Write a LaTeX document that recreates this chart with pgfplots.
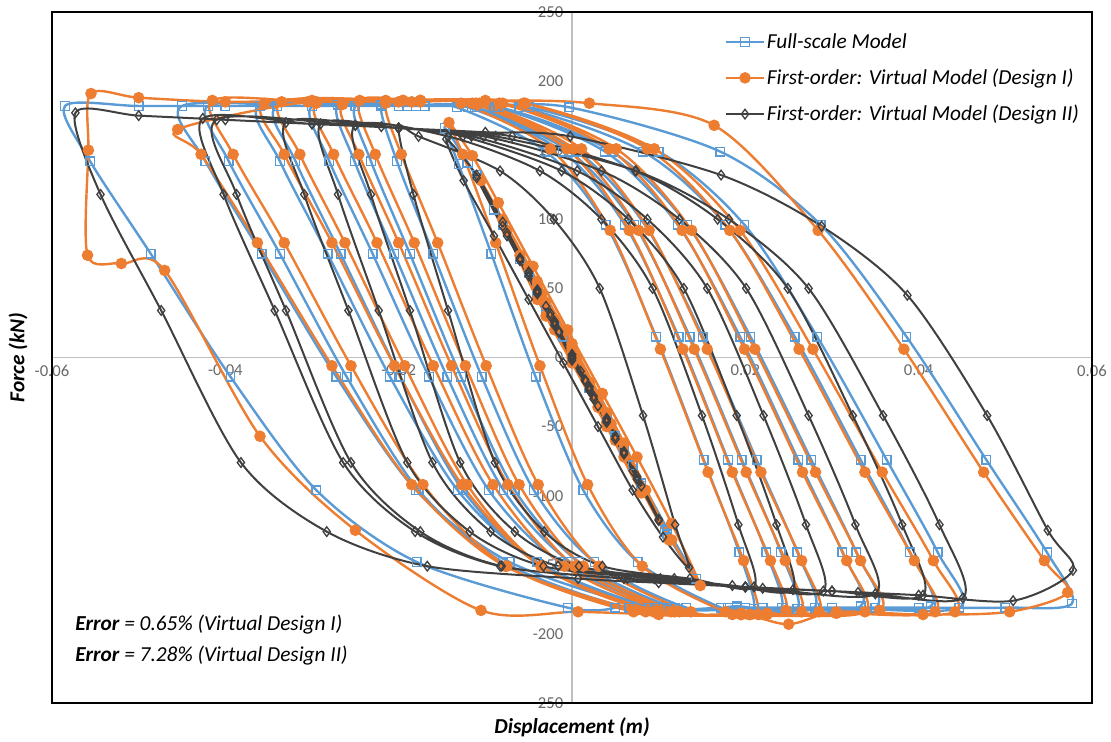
\documentclass[border=0pt]{standalone}
\usepackage{fontspec}
\setmainfont{Carlito}
\usepackage{pgfplots}
\pgfplotsset{compat=1.18}
\definecolor{cblue}{RGB}{91,155,213}
\definecolor{corange}{RGB}{237,125,49}
\definecolor{cdark}{RGB}{64,64,64}
\definecolor{axgray}{RGB}{191,191,191}
\definecolor{tickgray}{RGB}{105,105,105}
\begin{document}
\begin{tikzpicture}
\useasboundingbox (-39pt,-29.25pt) rectangle (794.25pt,527.25pt);
\begin{axis}[
  at={(0,0)}, anchor=south west,
  scale only axis, width=780pt, height=518.25pt,
  xmin=-0.06, xmax=0.06, ymin=-250, ymax=250,
  axis lines=middle,
  axis line style={draw=axgray, line width=0.8pt, -},
  major tick length=0pt,
  scaled x ticks=false, scaled y ticks=false,
  xtick={-0.06,-0.04,-0.02,0.02,0.04,0.06},
  xticklabels={-0.06,-0.04,-0.02,0.02,0.04,0.06},
  ytick={-250,-200,-150,-100,-50,0,50,100,150,200,250},
  yticklabels={-250,-200,-150,-100,-50,0,50,100,150,200,250},
  hide obscured x ticks=false,
  hide obscured y ticks=false,
  tick label style={font=\fontsize{12.5}{14}\selectfont, text=tickgray},
  xticklabel style={anchor=north, yshift=-2pt},
  yticklabel style={anchor=east, xshift=-3pt},
  clip=true,
  legend cell align=left,
  legend image code/.code={\draw[mark repeat=2,mark phase=2,#1] plot coordinates {(0pt,0pt) (14pt,0pt) (28pt,0pt)};},
  legend style={at={(rel axis cs:0.647,0.972)}, anchor=north west, draw=none, fill=none,
    font=\itshape\fontsize{16}{19}\selectfont, row sep=11pt, inner sep=0pt,
    nodes={inner sep=1.5pt}},
]
\addplot[cblue, line width=1.8pt, smooth, mark=square, mark size=3.2pt,
  mark options={line width=1pt, fill=none, solid}] coordinates {
(0,0) (0.002,-22) (0.004,-45) (0.002,-21) (0,2) (-0.002,25) (-0.004,48) (-0.002,23) (0,-1) (0.003,-34) (0.006,-68) (0.003,-33) (0,3) (-0.003,37) (-0.006,71) (-0.003,34) (0,-2) (0.004,-46) (0.008,-93) (0.004,-44) (0,4) (-0.004,50) (-0.008,96) (-0.004,46) (0,1) (0.005,-57) (0.0107,-125) (0.006,-66) (0,6) (-0.005,63) (-0.011,132)
(-0.008,97) (-0.004,51) (0,4) (0.004,-43) (0.008,-91) (0.011,-128) (0.0143,-160)
(0.011,-124) (0.007,-78) (0.003,-31) (-0.001,15) (-0.005,61) (-0.009,107) (-0.012,141) (-0.0147,166)
(-0.0131,140) (-0.0093,75) (-0.0042,-14) (0.0013,-96) (0.0076,-148) (0.0172,-181) (0.021,-182)
(0.0193,-141) (0.0152,-74) (0.0097,15) (0.0039,96) (-0.003,149) (-0.0133,181) (-0.018,182) (-0.022,183)
(-0.0202,142) (-0.016,75) (-0.0104,-14) (-0.0044,-96) (0.0026,-148) (0.0132,-181) (0.019,-180) (0.0242,-181)
(0.0224,-141) (0.018,-74) (0.0123,15) (0.0061,96) (-0.0011,149) (-0.012,181) (-0.018,182) (-0.025,182)
(-0.0232,142) (-0.0187,75) (-0.0128,-14) (-0.0066,-96) (0.0008,-148) (0.0119,-181) (0.019,-181) (0.026,-182)
(0.0241,-141) (0.0196,-74) (0.0136,15) (0.0072,96) (-0.0003,149) (-0.0116,181) (-0.019,182) (-0.027,183)
(-0.0251,142) (-0.0205,75) (-0.0144,-14) (-0.0079,-96) (-0.0002,-148) (0.0113,-181) (0.02,-181) (0.028,-181)
(0.026,-141) (0.0213,-74) (0.0151,15) (0.0084,96) (0.0006,149) (-0.0112,181) (-0.02,182) (-0.03,182)
(-0.028,142) (-0.023,75) (-0.0165,-14) (-0.0096,-96) (-0.0014,-148) (0.0109,-181) (0.022,-181) (0.0333,-180)
(0.0312,-141) (0.0261,-74) (0.0194,15) (0.0122,96) (0.0038,149) (-0.0089,181) (-0.02,182) (-0.034,182)
(-0.0319,142) (-0.0267,75) (-0.0198,-14) (-0.0126,-96) (-0.004,-148) (0.0089,-181) (0.022,-181) (0.035,-181)
(0.0328,-141) (0.0276,-74) (0.0206,15) (0.0133,96) (0.0046,149) (-0.0085,181) (-0.022,182) (-0.036,182)
(-0.0337,142) (-0.0282,75) (-0.021,-14) (-0.0132,-96) (-0.0041,-148) (0.0096,-181) (0.02,-181) (0.03,-181) (0.0414,-180)
(0.039,-141) (0.0333,-74) (0.0257,15) (0.0177,96) (0.0082,149) (-0.0061,181) (-0.018,182) (-0.03,182) (-0.042,182)
(-0.0396,142) (-0.0337,75) (-0.026,-14) (-0.0177,-96) (-0.008,-148) (0.0066,-181) (0.018,-181) (0.03,-181) (0.0447,-181)
(0.0422,-141) (0.0363,-74) (0.0283,15) (0.0199,96) (0.01,149) (-0.0049,181) (-0.017,182) (-0.03,182) (-0.045,182)
(-0.0423,142) (-0.0358,75) (-0.0272,-14) (-0.018,-96) (-0.0072,-148) (0.009,-181) (0.02,-181) (0.03,-181) (0.04,-181) (0.05,-181) (0.0577,-178)
(0.0548,-141) (0.0478,-74) (0.0386,15) (0.0287,96) (0.0171,149) (-0.0003,181) (-0.01,182) (-0.02,182) (-0.03,182) (-0.04,182) (-0.05,182) (-0.0585,182)
(-0.0556,142) (-0.0486,75) (-0.0394,-14) (-0.0295,-96) (-0.0179,-148) (-0.0005,-181) (0.005,-181)
};
\addlegendentry{Full-scale Model}
\addplot[corange, line width=1.8pt, smooth, mark=*, mark size=3.4pt,
  mark options={fill=corange, solid}] coordinates {
(0,0) (0.002,-20) (0.004,-47) (0.002,-18) (0,4) (-0.002,27) (-0.004,50) (-0.002,20) (0,-3) (0.003,-36) (0.006,-72) (0.003,-30) (0,6) (-0.003,40) (-0.006,74) (-0.003,30) (0,-4) (0.004,-50) (0.008,-98) (0.004,-40) (0,8) (-0.004,55) (-0.008,100) (-0.004,42) (0,2) (0.005,-60) (0.0112,-132) (0.006,-62) (0,10) (-0.005,66) (-0.0105,128)
(-0.0075,92) (-0.0035,46) (0.0005,0) (0.0045,-48) (0.0085,-96) (0.0115,-132) (0.0148,-165)
(0.0115,-120) (0.0075,-72) (0.0035,-26) (-0.0005,20) (-0.0045,66) (-0.0085,112) (-0.0115,146) (-0.0142,170)
(-0.0126,147) (-0.0088,83) (-0.0037,-6) (0.0018,-92) (0.0081,-151) (0.0177,-184) (0.0215,-186)
(0.0198,-147) (0.0157,-83) (0.0102,6) (0.0044,92) (-0.0025,151) (-0.0128,184) (-0.0175,186) (-0.0215,184)
(-0.0197,147) (-0.0155,83) (-0.0099,-6) (-0.0039,-92) (0.0031,-151) (0.0137,-184) (0.0195,-185) (0.0247,-183)
(0.0229,-147) (0.0185,-83) (0.0128,6) (0.0066,92) (-0.0006,151) (-0.0115,184) (-0.0175,185) (-0.0245,186)
(-0.0227,147) (-0.0182,83) (-0.0123,-6) (-0.0061,-92) (0.0013,-151) (0.0124,-184) (0.0195,-186) (0.0265,-184)
(0.0246,-147) (0.0201,-83) (0.0141,6) (0.0077,92) (0.0002,151) (-0.0111,184) (-0.0185,185) (-0.0265,183)
(-0.0246,147) (-0.02,83) (-0.0139,-6) (-0.0074,-92) (0.0003,-151) (0.0118,-184) (0.0205,-186) (0.0285,-184)
(0.0265,-147) (0.0218,-83) (0.0156,6) (0.0089,92) (0.0011,151) (-0.0107,184) (-0.0195,186) (-0.0295,184)
(-0.0275,147) (-0.0225,83) (-0.016,-6) (-0.0091,-92) (-0.0009,-151) (0.0114,-184) (0.0225,-186) (0.0338,-184)
(0.0317,-147) (0.0266,-83) (0.0199,6) (0.0127,92) (0.0043,151) (-0.0084,184) (-0.0195,186) (-0.0335,185)
(-0.0314,147) (-0.0262,83) (-0.0193,-6) (-0.0121,-92) (-0.0035,-151) (0.0094,-184) (0.0225,-185) (0.0355,-183)
(0.0333,-147) (0.0281,-83) (0.0211,6) (0.0138,92) (0.0051,151) (-0.008,184) (-0.0215,186) (-0.0355,184)
(-0.0332,147) (-0.0277,83) (-0.0205,-6) (-0.0127,-92) (-0.0036,-151) (0.0101,-184) (0.0205,-186) (0.0305,-185) (0.0419,-184)
(0.0395,-147) (0.0338,-83) (0.0262,6) (0.0182,92) (0.0087,151) (-0.0056,184) (-0.0175,186) (-0.0295,185) (-0.0415,186)
(-0.0391,147) (-0.0332,83) (-0.0255,-6) (-0.0172,-92) (-0.0075,-151) (0.0071,-184) (0.0185,-186) (0.0305,-185) (0.0442,-184)
(0.0417,-147) (0.0358,-83) (0.0278,6) (0.0194,92) (0.0095,151) (-0.0054,184) (-0.0175,186) (-0.0305,185) (-0.0455,165)
(-0.0428,147) (-0.0363,83) (-0.0277,-6) (-0.0185,-92) (-0.0077,-151) (0.0085,-184) (0.0195,-186) (0.025,-193) (0.0305,-184) (0.0405,-186) (0.0505,-184) (0.0572,-170)
(0.0545,-147) (0.0475,-83) (0.0383,6) (0.0284,92) (0.0164,168) (0.002,184) (-0.01,186) (-0.02,185) (-0.03,186) (-0.04,185) (-0.05,188) (-0.0555,191)
(-0.0558,150) (-0.0559,74) (-0.052,68) (-0.047,63) (-0.036,-57) (-0.025,-125) (-0.0105,-183) (0.0007,-184) (0.01,-186)
};
\addlegendentry{First-order: Virtual Model (Design I)}
\addplot[cdark, line width=1.5pt, smooth, mark=diamond, mark size=3.6pt,
  mark options={line width=1pt, fill=none, solid}] coordinates {
(0,0) (0.0015,-17) (0.003,-35) (0.0015,-16) (0,2) (-0.0015,19) (-0.003,37) (-0.0015,18) (0,-1) (0.002,-23) (0.004,-46) (0.006,-69) (0.004,-45) (0.002,-22) (0,1) (-0.002,25) (-0.004,48) (-0.006,71) (-0.004,47) (-0.002,24) (0,-2) (0.002,-24) (0.004,-47) (0.006,-70) (0.008,-93) (0.006,-68) (0.004,-44) (0.002,-21) (0,2) (-0.002,26) (-0.004,49) (-0.006,72) (-0.008,95) (-0.006,70) (-0.004,46) (-0.002,23) (0,-1) (0.0025,-30) (0.005,-59) (0.0075,-88) (0.01,-117) (0.0075,-86) (0.005,-57) (0.0025,-28) (0,2) (-0.0025,32) (-0.005,61) (-0.0075,90) (-0.011,130) (-0.0075,88) (-0.005,59) (-0.0025,30) (0,0) (0.0025,-30) (0.005,-59) (0.0075,-88) (0.0100,-118)
(0.007,-82) (0.004,-46) (0.001,-10) (-0.002,26) (-0.005,62) (-0.008,98) (-0.011,132) (-0.0145,158)
(-0.0125,128) (-0.009,88) (-0.005,42) (-0.001,-4) (0.003,-50) (0.007,-96) (0.0105,-130) (0.0135,-152)
(0.0119,-121) (0.0082,-42) (0.0032,50) (-0.0021,100) (-0.0083,135) (-0.0177,160) (-0.020,166)
(-0.0183,118) (-0.0143,34) (-0.0089,-76) (-0.0032,-126) (0.0035,-151) (0.0136,-160) (0.021,-166)
(0.0192,-121) (0.015,-42) (0.0093,50) (0.0034,100) (-0.0037,135) (-0.0143,160) (-0.025,168)
(-0.0232,118) (-0.0187,34) (-0.0129,-76) (-0.0066,-126) (0.0008,-151) (0.0118,-160) (0.0185,-165) (0.0255,-168)
(0.0236,-121) (0.019,-42) (0.0129,50) (0.0065,100) (-0.0012,135) (-0.0126,160) (-0.02,166) (-0.029,169)
(-0.027,118) (-0.0223,34) (-0.0161,-76) (-0.0094,-126) (-0.0016,-151) (0.0102,-160) (0.02,-166) (0.029,-169)
(0.027,-121) (0.0221,-42) (0.0156,50) (0.0087,100) (0.0006,135) (-0.0116,160) (-0.022,167) (-0.033,170)
(-0.0309,118) (-0.0258,34) (-0.019,-76) (-0.0118,-126) (-0.0033,-151) (0.0095,-160) (0.022,-167) (0.035,-171)
(0.0327,-121) (0.0273,-42) (0.0201,50) (0.0124,100) (0.0034,135) (-0.0102,160) (-0.025,168) (-0.041,172)
(-0.0387,118) (-0.033,34) (-0.0255,-76) (-0.0175,-126) (-0.0081,-151) (0.006,-160) (0.02,-166) (0.03,-169) (0.0405,-172)
(0.0381,-121) (0.0324,-42) (0.0249,50) (0.0168,100) (0.0073,135) (-0.0069,160) (-0.02,166) (-0.03,169) (-0.0426,173)
(-0.0402,118) (-0.0343,34) (-0.0264,-76) (-0.0181,-126) (-0.0083,-151) (0.0064,-160) (0.02,-166) (0.033,-170) (0.0451,-174)
(0.0424,-121) (0.0359,-42) (0.0273,50) (0.0181,100) (0.0074,135) (-0.0088,160) (-0.02,166) (-0.03,169) (-0.04,172) (-0.05,175) (-0.0573,177)
(-0.0544,118) (-0.0474,34) (-0.0382,-76) (-0.0283,-126) (-0.0167,-151) (0.0007,-160) (0.01,-163) (0.02,-166) (0.03,-169) (0.04,-172) (0.0509,-176) (0.0578,-154)
(0.0549,-125) (0.0479,-42) (0.0387,45) (0.0288,95) (0.0172,132) (-0.0002,160) (-0.01,163) (-0.02,166)
};
\addlegendentry{First-order: Virtual Model (Design II)}
\end{axis}
\draw[black, line width=1.3pt] (0,0) rectangle (780pt,518.25pt);
\node[anchor=west, font=\itshape\fontsize{16}{19}\selectfont] at (14pt,58.5pt) {\textbf{Error} = 0.65\% (Virtual Design I)};
\node[anchor=west, font=\itshape\fontsize{16}{19}\selectfont] at (14pt,35.25pt) {\textbf{Error} = 7.28\% (Virtual Design II)};
\node[rotate=90, font=\bfseries\itshape\fontsize{16}{19}\selectfont] at (-25.5pt,259.1pt) {Force (kN)};
\node[font=\bfseries\itshape\fontsize{16}{19}\selectfont] at (390pt,-18pt) {Displacement (m)};
\end{tikzpicture}
\end{document}
